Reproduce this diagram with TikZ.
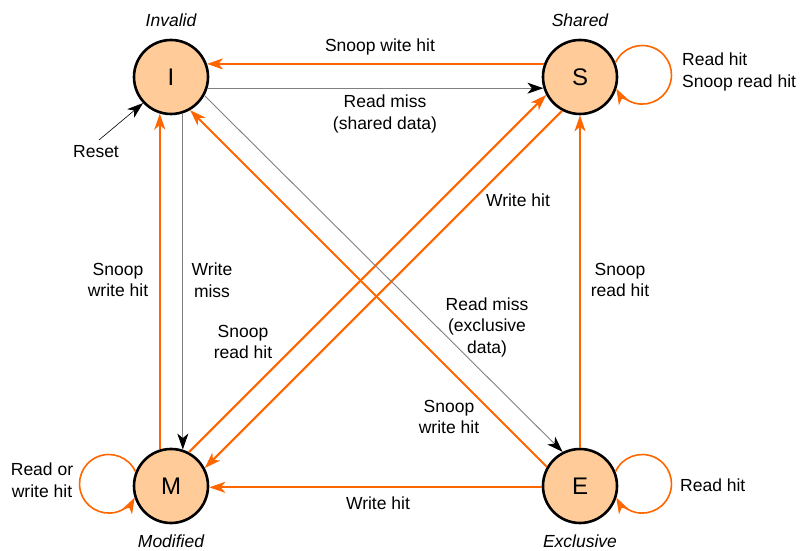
\documentclass[tikz,border=0pt]{standalone}
\usepackage{fontspec}
\setmainfont{Liberation Sans}
\usetikzlibrary{arrows.meta}
\definecolor{mesiorange}{RGB}{255,102,0}
\definecolor{mesifill}{RGB}{255,204,153}
\definecolor{linegray}{RGB}{128,128,128}
\begin{document}
\begin{tikzpicture}[x=1pt,y=1pt,
  font=\fontsize{17.5}{21.5}\selectfont,
  state/.style={circle,draw=black,line width=2.6pt,fill=mesifill,
    minimum size=74pt,inner sep=0pt,font=\fontsize{24}{24}\selectfont},
  statename/.style={font=\fontsize{17.5}{21.5}\selectfont\itshape},
  lbl/.style={align=center,inner sep=0pt},
  snoop/.style={draw=mesiorange,line width=2pt,
    -{Stealth[length=16pt,width=11pt,inset=4.5pt]}},
  cpu/.style={draw=linegray,line width=0.9pt,
    -{Stealth[length=16pt,width=11pt,inset=4.5pt,color=black,fill=black]}},
  selfloop/.style={draw=mesiorange,line width=1.6pt,
    -{Stealth[length=16pt,width=11pt,inset=4.5pt]}}
]
\useasboundingbox (0,0) rectangle (800,551);

% the four MESI states
\node[state] (I) at (171,474) {I};
\node[state] (S) at (580,474) {S};
\node[state] (M) at (171,65) {M};
\node[state] (E) at (580,65) {E};

\node[statename] (nI) at (171,531) {Invalid};
\node[statename] (nS) at (580,531) {Shared};
\node[statename] (nM) at (171,10) {Modified};
\node[statename] (nE) at (580,10) {Exclusive};

% top edge between I and S
\draw[snoop] (S.160) -- (I.20);
\draw[cpu] (I.-17) -- (S.197);
\node[lbl] (l1) at (380,504) {Snoop wite hit};
\node[lbl] (l2) at (385,437) {Read miss\\(shared data)};

% left edge between I and M
\draw[snoop] (M.107) -- (I.253);
\draw[cpu] (I.288) -- (M.72);
\node[lbl] (l3) at (118,271) {Snoop\\write hit};
\node[lbl] (l4) at (212,271) {Write\\miss};

% diagonal between M and S
\draw[snoop] (M.62) -- (S.208);
\draw[snoop] (S.242) -- (M.28);
\node[lbl] (l5) at (243,209) {Snoop\\read hit};
\node[lbl] (l6) at (518,351) {Write hit};

% diagonal between I and E
\draw[snoop] (E.150) -- (I.-60);
\draw[cpu] (I.-29) -- (E.117);
\node[lbl] (l7) at (487,224) {Read miss\\(exclusive\\data)};
\node[lbl] (l8) at (449,134) {Snoop\\write hit};

% right and bottom edges
\draw[snoop] (E.north) -- (S.south);
\node[lbl] (l9) at (620,271) {Snoop\\read hit};
\draw[snoop] (E.182) -- (M.-2);
\node[lbl] (l10) at (378,48) {Write hit};

% self loops
\draw[selfloop] (S.22) arc[start angle=155.5,end angle=-152,radius=29.3];
\node[lbl,align=left,anchor=west] (l11) at (682,479) {Read hit\\Snoop read hit};
\draw[selfloop] (E.22) arc[start angle=155.5,end angle=-152,radius=29.3];
\node[lbl,anchor=west] (l12) at (680,66) {Read hit};
\draw[selfloop] (M.158) arc[start angle=24.5,end angle=332,radius=29.3];
\node[lbl] (l13) at (42,71) {Read or\\write hit};

% reset entry
\node[lbl] (reset) at (96,399) {Reset};
\coordinate (rs) at (99,411);
\draw[draw=black,line width=0.6pt,
  -{Stealth[length=16pt,width=11pt,inset=4.5pt]}] (rs) -- (I.223);
\end{tikzpicture}
\end{document}
